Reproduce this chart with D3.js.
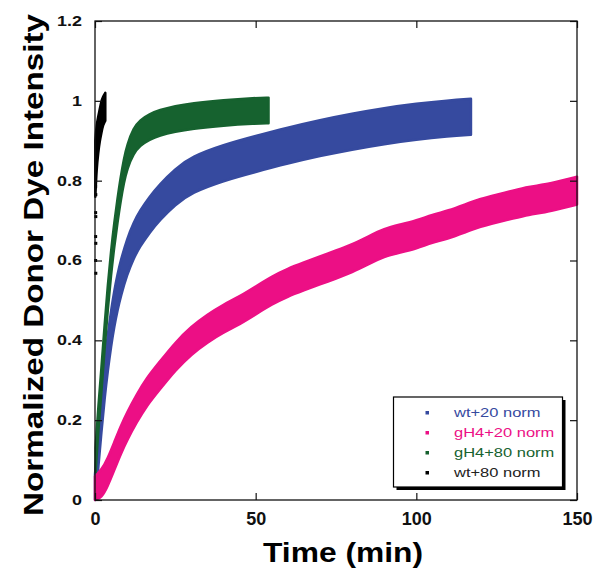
<!DOCTYPE html>
<html>
<head>
<meta charset="utf-8">
<script src="https://cdn.jsdelivr.net/npm/d3@7"></script>
<style>
  body { margin: 0; background: #fff; }
  svg { display: block; font-family: "Liberation Sans", Arial, Helvetica, sans-serif; }
</style>
</head>
<body>
<div id="chart"></div>
<script>
// data : lower / upper edge of each band of points
const blueTime = [0, 0.5, 1, 2, 3, 4, 5, 6, 7, 8, 10, 12, 14, 17, 20, 25, 30, 40, 50, 60, 70, 80, 90, 100, 110, 117];
const blueLow = [0, 0.025, 0.08, 0.17, 0.255, 0.325, 0.385, 0.435, 0.475, 0.51, 0.565, 0.605, 0.635, 0.67, 0.7, 0.74, 0.77, 0.8, 0.822, 0.843, 0.862, 0.878, 0.892, 0.903, 0.911, 0.915];
const blueHigh = [0.065, 0.115, 0.17, 0.26, 0.345, 0.415, 0.475, 0.525, 0.565, 0.6, 0.655, 0.695, 0.725, 0.76, 0.79, 0.83, 0.86, 0.89, 0.912, 0.933, 0.952, 0.968, 0.982, 0.993, 1.001, 1.005];

const pinkTime = [0, 2, 4, 6, 8, 10, 13, 16, 20, 25, 30, 35, 40, 45, 50, 55, 60, 65, 70, 75, 80, 85, 90, 95, 100, 105, 110, 115, 120, 125, 130, 135, 140, 145, 150];
const pinkLow = [0, 0.005, 0.035, 0.075, 0.115, 0.15, 0.195, 0.235, 0.275, 0.325, 0.365, 0.395, 0.42, 0.44, 0.465, 0.49, 0.51, 0.525, 0.54, 0.555, 0.57, 0.59, 0.61, 0.62, 0.63, 0.645, 0.655, 0.67, 0.685, 0.695, 0.705, 0.715, 0.72, 0.73, 0.74];
const pinkHigh = [0.06, 0.075, 0.105, 0.145, 0.185, 0.22, 0.265, 0.305, 0.345, 0.395, 0.435, 0.465, 0.49, 0.51, 0.535, 0.56, 0.58, 0.595, 0.61, 0.625, 0.64, 0.66, 0.68, 0.69, 0.7, 0.715, 0.725, 0.74, 0.755, 0.765, 0.775, 0.785, 0.79, 0.8, 0.81];

const greenTime = [0.2, 0.5, 1, 2, 3, 4, 5, 6, 7, 8, 9, 10, 12, 14, 17, 20, 25, 30, 40, 50, 54];
const greenLow = [0.07, 0.11, 0.17, 0.27, 0.38, 0.48, 0.565, 0.635, 0.695, 0.75, 0.795, 0.83, 0.868, 0.888, 0.903, 0.913, 0.923, 0.93, 0.938, 0.943, 0.944];
const greenHigh = [0.13, 0.17, 0.23, 0.33, 0.44, 0.54, 0.625, 0.695, 0.755, 0.81, 0.855, 0.89, 0.932, 0.952, 0.967, 0.977, 0.987, 0.994, 1.002, 1.007, 1.008];

const blackTime = [0.1, 0.5, 1, 1.5, 2, 2.5, 3.2];
const blackLow = [0.76, 0.83, 0.87, 0.9, 0.92, 0.94, 0.95];
const blackHigh = [0.9, 0.94, 0.96, 0.98, 1.0, 1.01, 1.02];
// stray black points below the band
const blackDotTime = [0.2, 0.25, 0.2, 0.25, 0.2, 0.25, 0.2, 0.25];
const blackDotValue = [0.785, 0.765, 0.72, 0.71, 0.66, 0.643, 0.6, 0.568];

const seriesNames = ["wt+20 norm", "gH4+20 norm", "gH4+80 norm", "wt+80 norm"];
const xTicks = [0, 50, 100, 150];
const yTicks = [0, 0.2, 0.4, 0.6, 0.8, 1, 1.2];

function drawChart() {
  const margin = { top: 21, right: 19, bottom: 73, left: 95 },
    width = 596 - margin.left - margin.right,
    height = 573 - margin.top - margin.bottom;

  const root = d3
    .select("#chart")
    .append("svg")
    .attr("width", 596)
    .attr("height", 573);

  const svg = root
    .append("g")
    .attr("transform", `translate(${margin.left},${margin.top})`);

  // échelles
  const x = d3.scaleLinear().domain([0, 150]).range([0, width]);
  const y = d3.scaleLinear().domain([0, 1.2]).range([height, 0]);

  const colors = {
    "wt+20 norm": "#364a9f",
    "gH4+20 norm": "#ec0f85",
    "gH4+80 norm": "#16622f",
    "wt+80 norm": "#000000",
  };

  const bands = [
    { name: "wt+20 norm", t: blueTime, lo: blueLow, hi: blueHigh },
    { name: "gH4+20 norm", t: pinkTime, lo: pinkLow, hi: pinkHigh },
    { name: "gH4+80 norm", t: greenTime, lo: greenLow, hi: greenHigh },
    { name: "wt+80 norm", t: blackTime, lo: blackLow, hi: blackHigh },
  ];

  const area = d3
    .area()
    .x((d) => x(d.t))
    .y0((d) => y(d.lo))
    .y1((d) => y(d.hi))
    .curve(d3.curveBasis);

  bands.forEach((b) => {
    const rows = b.t.map((t, i) => ({ t: t, lo: b.lo[i], hi: b.hi[i] }));
    svg
      .append("path")
      .datum(rows)
      .attr("fill", colors[b.name])
      .attr("stroke", colors[b.name])
      .attr("stroke-width", 2.5)
      .attr("stroke-linejoin", "round")
      .attr("d", area);
  });

  svg
    .selectAll(".blackdot")
    .data(blackDotTime.map((t, i) => ({ t: t, v: blackDotValue[i] })))
    .enter()
    .append("rect")
    .attr("x", (d) => x(d.t) - 1.5)
    .attr("y", (d) => y(d.v) - 1.5)
    .attr("width", 3)
    .attr("height", 3)
    .attr("fill", "#000");

  // Axes (ticks pointing inward on all four sides)
  const yAxis = svg
    .append("g")
    .call(
      d3.axisLeft(y).tickValues(yTicks).tickSizeInner(-7).tickSizeOuter(0)
        .tickPadding(13).tickFormat((d) => String(d))
    );
  yAxis.selectAll("text")
    .style("font-size", "14px")
    .style("font-weight", "bold")
    .attr("fill", "#111")
    .each(function () {
      const w = this.getComputedTextLength();
      d3.select(this).attr("textLength", w * 1.28).attr("lengthAdjust", "spacingAndGlyphs");
    });

  const xAxis = svg
    .append("g")
    .attr("transform", `translate(0,${height})`)
    .call(
      d3.axisBottom(x).tickValues(xTicks).tickSizeInner(-7).tickSizeOuter(0)
        .tickPadding(12).tickFormat(d3.format("d"))
    );
  xAxis.selectAll("text")
    .style("font-size", "18px")
    .style("font-weight", "bold")
    .attr("fill", "#111");

  svg.append("g")
    .call(d3.axisTop(x).tickValues(xTicks).tickSizeInner(-7).tickSizeOuter(0).tickFormat(""));
  svg.append("g")
    .attr("transform", `translate(${width},0)`)
    .call(d3.axisRight(y).tickValues(yTicks).tickSizeInner(-7).tickSizeOuter(0).tickFormat(""));

  svg.selectAll(".domain").remove();
  svg.selectAll(".tick line").attr("stroke", "#111").attr("stroke-width", 1.2);

  svg
    .append("rect")
    .attr("width", width)
    .attr("height", height)
    .attr("fill", "none")
    .attr("stroke", "#111")
    .attr("stroke-width", 1.3);

  // Titres
  svg
    .append("text")
    .attr("x", 343 - margin.left)
    .attr("y", 562 - margin.top)
    .attr("text-anchor", "middle")
    .style("font-size", "27px")
    .style("font-weight", "bold")
    .attr("textLength", 160)
    .attr("lengthAdjust", "spacingAndGlyphs")
    .text("Time (min)");

  svg
    .append("text")
    .attr("transform", `translate(${43 - margin.left},${265 - margin.top}) rotate(-90)`)
    .attr("text-anchor", "middle")
    .style("font-size", "28px")
    .style("font-weight", "bold")
    .attr("textLength", 502)
    .attr("lengthAdjust", "spacingAndGlyphs")
    .text("Normalized Donor Dye Intensity");

  // légende
  const legend = root.append("g").attr("transform", "translate(393.5,397)");
  legend.append("rect")
    .attr("x", 3).attr("y", 3).attr("width", 169).attr("height", 90)
    .attr("fill", "#000");
  legend.append("rect")
    .attr("width", 169).attr("height", 90)
    .attr("fill", "#fff").attr("stroke", "#000").attr("stroke-width", 1.2);

  seriesNames.forEach((name, i) => {
    legend.append("rect")
      .attr("x", 32).attr("y", 14 + i * 20)
      .attr("width", 3.5).attr("height", 3.5)
      .attr("fill", colors[name]);
    const t = legend.append("text")
      .attr("x", 60.5).attr("y", 19.5 + i * 20)
      .style("font-size", "13.5px")
      .attr("fill", name === "wt+80 norm" ? "#222" : colors[name])
      .text(name);
    const w = t.node().getComputedTextLength();
    t.attr("textLength", w * 1.22).attr("lengthAdjust", "spacingAndGlyphs");
  });
}

drawChart();
</script>
</body>
</html>
